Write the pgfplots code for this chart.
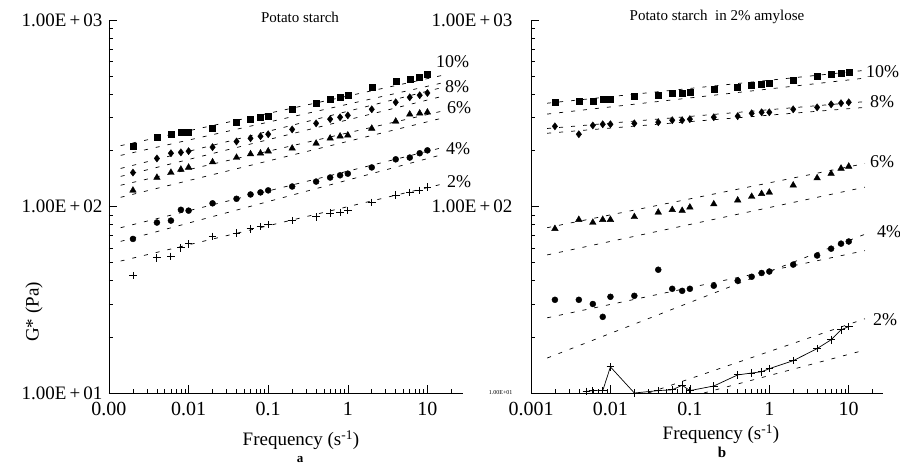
\documentclass[border=0pt]{standalone}
\usepackage{fontspec}
\setmainfont{Liberation Serif}
\usepackage{pgfplots}
\usepackage{pgfplotstable}
\pgfplotsset{compat=1.18}
\tikzset{
 myfit/.style={black, line width=0.7pt, dash pattern=on 4pt off 8pt},
 ms10/.style={black, mark=square*, mark size=3.0pt},
 ms8/.style={black, mark=diamond*, mark size=3.6pt},
 ms6/.style={black, mark=triangle*, mark size=3.8pt},
 ms4/.style={black, mark=*, mark size=3.0pt},
 ms2/.style={black, mark=+, mark size=3.8pt, mark options={line width=0.9pt}},
}
\newcommand{\E}[1]{1.00E\,+\,#1}
\pgfplotstableread{
f     g10  g8   g6   g4   g2
0.002 210  152  122  67   42.6
0.004 235  181  143  82   53
0.006 244  193  152  84   54
0.008 250  195  158  96   60
0.01  250  198  162  95   63
0.02  262  208  173  104  69
0.04  283  223  183  110  72
0.06  294  232  191  116  76
0.08  301  238  193  119  78
0.1   305  244  198  122  80
0.2   332  259  205  128  84
0.4   358  279  218  136  88
0.6   376  294  232  143  92
0.8   385  301  238  147  93
1     395  308  241  150  95
2     436  332  262  162  105
4     470  362  286  179  115
6     482  385  312  183  119
8     494  395  316  193  122
10    513  406  320  200  127
}\lefttab
\pgfplotstableread{
f     g10  g8   g6   g4
0.002 362  269  76   31.6
0.004 367  244  85   31.6
0.006 367  272  82   30
0.008 376  276  85   25.6
0.01  376  276  85   32.8
0.02  390  279  88   33.2
0.04  395  283  93   45.8
0.06  406  290  96   36.2
0.08  406  290  95   35.3
0.1   410  294  99   36.2
0.2   426  301  103  37.6
0.4   438  305  108  40
0.6   447  316  113  42
0.8   451  320  117  44
1     457  320  119  44.8
2     475  332  130  48.8
4     500  340  142  54.6
6     513  353  150  59.4
8     519  358  160  63.2
10    525  362  164  64.9
}\righttab
\pgfplotstableread{
f     g2
0.005 10.2
0.006 10.3
0.008 10.3
0.01  13.8
0.02  10.0
0.04  10.3
0.06  10.4
0.08  11.0
0.1   10.3
0.2   10.9
0.4   12.5
0.6   12.8
0.8   13.0
1     13.5
2     14.9
4     17.3
6     19.3
8     21.8
10    22.7
}\righttwo
\begin{document}
\begin{tikzpicture}
\useasboundingbox (0,0) rectangle (900pt,465pt);
% ---------- panel a ----------
\begin{axis}[at={(109pt,72pt)}, anchor=south west,
  xmode=log, ymode=log, scale only axis, width=354pt, height=373pt,
  xmin=0.001, xmax=28, ymin=10, ymax=1000,
  axis x line*=bottom, axis y line*=left,
  axis line style={-, line width=0.8pt},
  tick align=inside, major tick length=8pt, minor tick length=4pt,
  tick style={black, line width=0.6pt},
  xtick={0.001,0.01,0.1,1,10},
  minor xtick={0.002,0.003,0.004,0.005,0.006,0.007,0.008,0.009,0.02,0.03,0.04,0.05,0.06,0.07,0.08,0.09,0.2,0.3,0.4,0.5,0.6,0.7,0.8,0.9,2,3,4,5,6,7,8,9,20},
  ytick={10,100,1000},
  minor ytick={20,30,40,50,60,70,80,90,200,300,400,500,600,700,800,900},
  xticklabel style={font=\fontsize{20}{22}\selectfont, yshift=-6pt},
  yticklabel style={font=\fontsize{19}{21}\selectfont, xshift=-3pt},
  clip=false,
  xticklabels={0.00,0.01,0.1,1,10},
  yticklabels={\E{01},\E{02},\E{03}}]
\addplot[myfit] coordinates {(0.0014,212) (15.5,505)};
\addplot[myfit] coordinates {(0.0014,188) (15.5,460)};
\addplot[myfit] coordinates {(0.0014,160) (15.5,435)};
\addplot[myfit] coordinates {(0.0014,145) (15.5,390)};
\addplot[myfit] coordinates {(0.0014,130) (15.5,325)};
\addplot[myfit] coordinates {(0.0014,112) (15.5,298)};
\addplot[myfit] coordinates {(0.0014,77) (15.5,207)};
\addplot[myfit] coordinates {(0.0014,65) (15.5,190)};
\addplot[myfit] coordinates {(0.0014,51) (15.5,132)};
\addplot[only marks, ms10] table[x=f,y=g10] {\lefttab};
\addplot[only marks, ms8]  table[x=f,y=g8]  {\lefttab};
\addplot[only marks, ms6]  table[x=f,y=g6]  {\lefttab};
\addplot[only marks, ms4]  table[x=f,y=g4]  {\lefttab};
\addplot[only marks, ms2]  table[x=f,y=g2]  {\lefttab};
\end{axis}
% ---------- panel b ----------
\begin{axis}[at={(531pt,72pt)}, anchor=south west,
  xmode=log, ymode=log, scale only axis, width=352pt, height=373pt,
  xmin=0.001, xmax=27, ymin=10, ymax=1000,
  axis x line*=bottom, axis y line*=left,
  axis line style={-, line width=0.8pt},
  tick align=inside, major tick length=8pt, minor tick length=4pt,
  tick style={black, line width=0.6pt},
  xtick={0.001,0.01,0.1,1,10},
  minor xtick={0.002,0.003,0.004,0.005,0.006,0.007,0.008,0.009,0.02,0.03,0.04,0.05,0.06,0.07,0.08,0.09,0.2,0.3,0.4,0.5,0.6,0.7,0.8,0.9,2,3,4,5,6,7,8,9,20},
  ytick={10,100,1000},
  minor ytick={20,30,40,50,60,70,80,90,200,300,400,500,600,700,800,900},
  xticklabel style={font=\fontsize{20}{22}\selectfont, yshift=-6pt},
  yticklabel style={font=\fontsize{19}{21}\selectfont, xshift=-15pt},
  clip=false,
  xticklabels={0.001,0.01,0.1,1,10},
  yticklabels={{\fontsize{6}{7}\selectfont 1.00E+01},\E{02},\E{03}}]
\addplot[myfit] coordinates {(0.0016,358) (16,537)};
\addplot[myfit] coordinates {(0.0016,313) (16,488)};
\addplot[myfit] coordinates {(0.0016,262) (16,365)};
\addplot[myfit] coordinates {(0.0016,247) (16,340)};
\addplot[myfit] coordinates {(0.0016,77) (16,170)};
\addplot[myfit] coordinates {(0.0016,55) (16,127)};
\addplot[myfit] coordinates {(0.0016,25.3) (16,58)};
\addplot[myfit] coordinates {(0.0016,15.4) (16,71)};
\addplot[myfit] coordinates {(0.03,10) (16,25)};
\addplot[myfit] coordinates {(0.15,10) (16,17)};
\addplot[only marks, ms10] table[x=f,y=g10] {\righttab};
\addplot[only marks, ms8]  table[x=f,y=g8]  {\righttab};
\addplot[only marks, ms6]  table[x=f,y=g6]  {\righttab};
\addplot[only marks, ms4]  table[x=f,y=g4]  {\righttab};
\addplot[black, line width=0.7pt, ms2] table[x=f,y=g2] {\righttwo};
\end{axis}
% ---------- texts ----------
\begin{scope}[every node/.style={inner sep=0pt}]
\node at (300pt,448pt) {\fontsize{15}{16}\selectfont Potato starch};
\node at (717pt,448pt) {\fontsize{15}{16}\selectfont Potato starch\ \ in 2\% amylose};
\node at (301pt,25pt) {\fontsize{19}{21}\selectfont Frequency (s\textsuperscript{-1})};
\node at (721pt,31pt) {\fontsize{19}{21}\selectfont Frequency (s\textsuperscript{-1})};
\node[rotate=90] at (34pt,153pt) {\fontsize{19}{21}\selectfont G* (Pa)};
\node at (300pt,5pt) {\fontsize{13}{14}\selectfont\bfseries a};
\node at (722pt,13pt) {\fontsize{15}{16}\selectfont\bfseries b};
\end{scope}
\begin{scope}[every node/.style={inner sep=0pt, anchor=west, font=\fontsize{18}{20}\selectfont}]
\node at (436pt,403pt) {10\%};
\node at (445pt,378pt) {8\%};
\node at (447pt,357pt) {6\%};
\node at (446pt,316pt) {4\%};
\node at (447pt,283pt) {2\%};
\node at (866pt,393pt) {10\%};
\node at (870pt,363pt) {8\%};
\node at (870pt,303pt) {6\%};
\node at (877pt,233pt) {4\%};
\node at (873pt,145pt) {2\%};
\end{scope}
\end{tikzpicture}
\end{document}
